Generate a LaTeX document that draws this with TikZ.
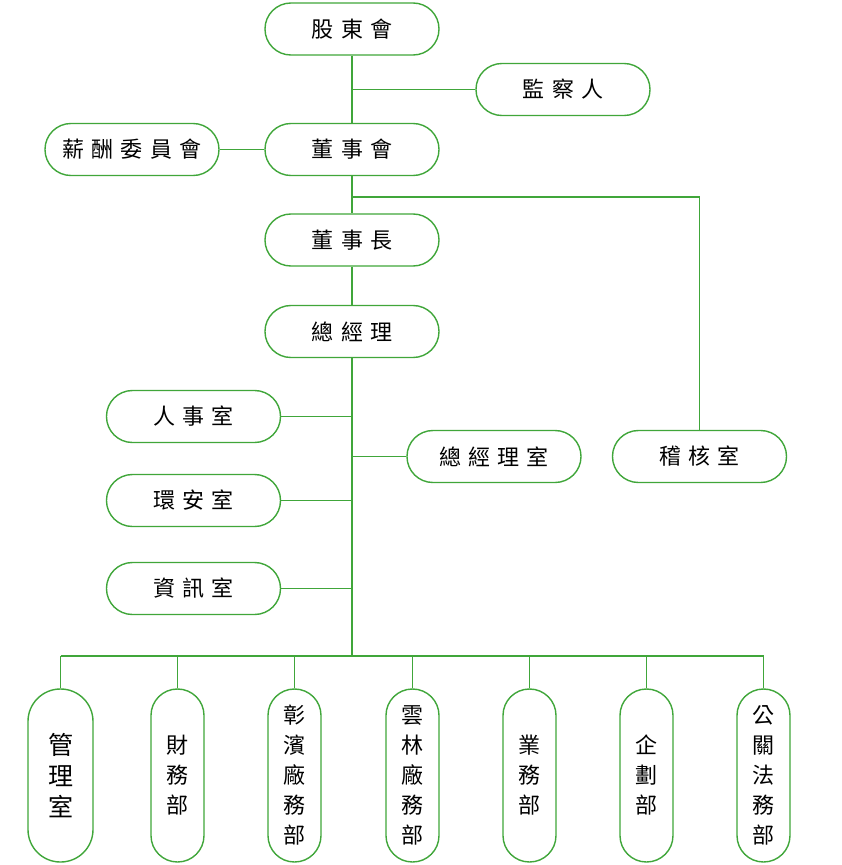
\documentclass[tikz,border=0pt]{standalone}
\usepackage{fontspec}
\newfontfamily\cjk{Noto Sans CJK TC}
\definecolor{grn}{RGB}{64,166,58}
\newcommand{\gp}{\hspace{0.32em}}
\begin{document}
\begin{tikzpicture}[x=1pt,y=-1pt,
  line width=1.4pt,
  hbox/.style={draw=grn,line width=1.4pt,fill=white,minimum width=174pt,minimum height=52pt,rounded corners=25.9pt,inner sep=0pt,font=\cjk\fontsize{22}{26}\selectfont},
  vbox/.style={draw=grn,line width=1.4pt,fill=white,minimum width=53pt,minimum height=173pt,rounded corners=26.4pt,inner sep=0pt,align=center,font=\cjk\fontsize{22}{30}\selectfont},
  conn/.style={draw=grn,line width=1.4pt}]
\useasboundingbox (0,0) rectangle (842,865);
\fill[white] (0,0) rectangle (842,865);
% nodes
\node[hbox] (gd) at (352,29) {股\gp 東\gp 會};
\node[hbox] (jc) at (563,89.5) {監\gp 察\gp 人};
\node[hbox] (xc) at (132,149.5) {薪\gp 酬\gp 委\gp 員\gp 會};
\node[hbox] (ds) at (352,149.5) {董\gp 事\gp 會};
\node[hbox] (dsz) at (352,240) {董\gp 事\gp 長};
\node[hbox] (zjl) at (352,331.5) {總\gp 經\gp 理};
\node[hbox] (rs) at (193.5,416.5) {人\gp 事\gp 室};
\node[hbox] (ha) at (193.5,500.5) {環\gp 安\gp 室};
\node[hbox] (zx) at (193.5,588.5) {資\gp 訊\gp 室};
\node[hbox] (zjls) at (494,456.5) {總\gp 經\gp 理\gp 室};
\node[hbox] (jh) at (699.5,456.5) {稽\gp 核\gp 室};
\node[vbox,minimum width=65pt,rounded corners=32.4pt,font=\cjk\fontsize{25}{31}\selectfont] (b1) at (60.5,775.5) {管\\理\\室};
\node[vbox] (b2) at (177.5,775.5) {財\\務\\部};
\node[vbox] (b3) at (294.5,775.5) {彰\\濱\\廠\\務\\部};
\node[vbox] (b4) at (412.5,775.5) {雲\\林\\廠\\務\\部};
\node[vbox] (b5) at (529.5,775.5) {業\\務\\部};
\node[vbox] (b6) at (646.5,775.5) {企\\劃\\部};
\node[vbox] (b7) at (763.5,775.5) {公\\關\\法\\務\\部};
% coordinates
\coordinate (au) at (352,197);
\coordinate (bus) at (352,656);
% connectors
\draw[conn] (gd.south) -- (ds.north);
\draw[conn] (jc.west) -- (jc.west -| gd.south);
\draw[conn] (xc.east) -- (ds.west);
\draw[conn] (ds.south) -- (dsz.north);
\draw[conn] (au) -| (jh.north);
\draw[conn] (dsz.south) -- (zjl.north);
\draw[conn] (zjl.south) -- (bus);
\draw[conn] (rs.east) -- (rs.east -| bus);
\draw[conn] (ha.east) -- (ha.east -| bus);
\draw[conn] (zx.east) -- (zx.east -| bus);
\draw[conn] (zjls.west) -- (zjls.west -| bus);
\draw[conn] (b1.north |- bus) -- (b7.north |- bus);
\foreach \b in {b1,b2,b3,b4,b5,b6,b7} {\draw[conn] (\b.north) -- (\b.north |- bus);}
\end{tikzpicture}
\end{document}
